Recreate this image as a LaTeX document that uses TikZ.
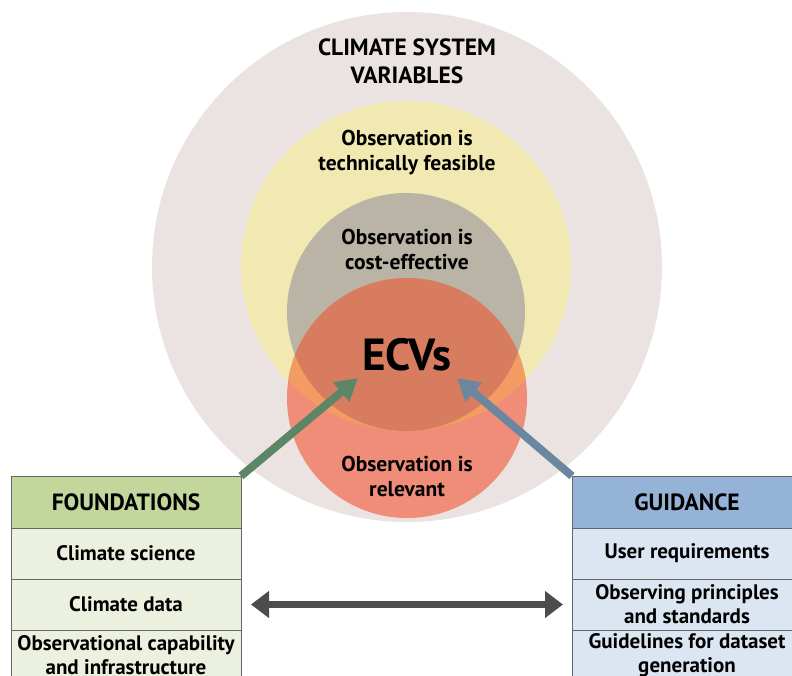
\documentclass[tikz,border=0pt]{standalone}
\usepackage{fontspec}
\setmainfont{PT Sans}
\usetikzlibrary{arrows.meta,positioning}

\definecolor{sysgray}{HTML}{EAE3E1}
\definecolor{feasyellow}{HTML}{F1E9B1}
\definecolor{costgray}{HTML}{B9B4A6}
\definecolor{relred}{HTML}{EF8D79}
\definecolor{redyellow}{HTML}{F29B62}
\definecolor{redgray}{HTML}{D77C5F}
\definecolor{foundhead}{HTML}{C3D69B}
\definecolor{foundrow}{HTML}{EBF1DE}
\definecolor{guidhead}{HTML}{95B3D7}
\definecolor{guidrow}{HTML}{DCE6F2}
\definecolor{foundarrow}{HTML}{5B8767}
\definecolor{guidarrow}{HTML}{6A879F}
\definecolor{linkgray}{HTML}{4D4D4D}

\tikzset{
  ring/.style={circle, inner sep=0pt, outer sep=0pt},
  lbl/.style={align=center, font=\bfseries\fontsize{21.5}{25}\selectfont},
  headbox/.style={rectangle, draw=gray!80!black, line width=0.8pt, minimum width=230pt,
    minimum height=52pt, outer sep=0pt, align=center, font=\bfseries\fontsize{23.5}{26}\selectfont},
  rowbox/.style={rectangle, draw=gray!80!black, line width=0.8pt, minimum width=230pt,
    minimum height=51pt, outer sep=0pt, inner sep=1pt, align=center, font=\bfseries\fontsize{21}{24}\selectfont},
}

\begin{document}
\begin{tikzpicture}[x=1pt, y=-1pt, node distance=0pt]
    \useasboundingbox (0,0) rectangle (792,675);
    \clip (0,0) rectangle (792,675);

    % circles
    \node[ring, fill=sysgray, minimum size=510pt] (sys) at (407,267) {};
    \node[ring, fill=feasyellow, minimum size=330pt] (feas) at (406,266) {};
    \node[ring, fill=costgray, minimum size=238pt] (cost) at (406,312) {};
    \node[ring, fill=relred, minimum size=240pt] (rel) at (407,398) {};
    \begin{scope}
        \clip (407,398) circle (120pt);
        \fill[redyellow] (406,266) circle (165pt);
        \fill[redgray] (406,312) circle (119pt);
    \end{scope}

    \node[lbl, font=\bfseries\fontsize{23.5}{28}\selectfont] (syslbl) at (407,61) {CLIMATE SYSTEM\\VARIABLES};
    \node[lbl] (feaslbl) at (407,153) {Observation is\\technically feasible};
    \node[lbl] (costlbl) at (407,249) {Observation is\\cost-effective};
    \node[lbl] (rellbl) at (407,476) {Observation is\\relevant};
    \node[font=\bfseries\fontsize{45}{48}\selectfont] (ecv) at (407,355) {ECVs};

    % boxes
    \node[headbox, fill=foundhead] (found) at (126,502) {FOUNDATIONS};
    \node[rowbox, fill=foundrow, below=of found] (science) {Climate science};
    \node[rowbox, fill=foundrow, below=of science] (data) {Climate data};
    \node[rowbox, fill=foundrow, below=of data] (capab) {Observational capability\\and infrastructure};

    \node[headbox, fill=guidhead] (guid) at (687,502) {GUIDANCE};
    \node[rowbox, fill=guidrow, below=of guid] (userreq) {User requirements};
    \node[rowbox, fill=guidrow, below=of userreq] (princ) {Observing principles\\and standards};
    \node[rowbox, fill=guidrow, below=of princ] (guidel) {Guidelines for dataset\\generation};

    % arrows
    \coordinate (ftip) at (358,378);
    \coordinate (gtip) at (457,378);
    \draw[foundarrow, line width=8pt, -{Triangle[length=22pt,width=24pt]}] (found.north east) -- (ftip);
    \draw[guidarrow, line width=8pt, -{Triangle[length=22pt,width=24pt]}] (guid.north west) -- (gtip);
    \draw[linkgray, line width=7pt, {Triangle[length=18pt,width=26pt]}-{Triangle[length=18pt,width=26pt]}]
        ([xshift=10pt]data.east) -- ([xshift=-9pt]princ.west |- data.east);
\end{tikzpicture}
\end{document}
